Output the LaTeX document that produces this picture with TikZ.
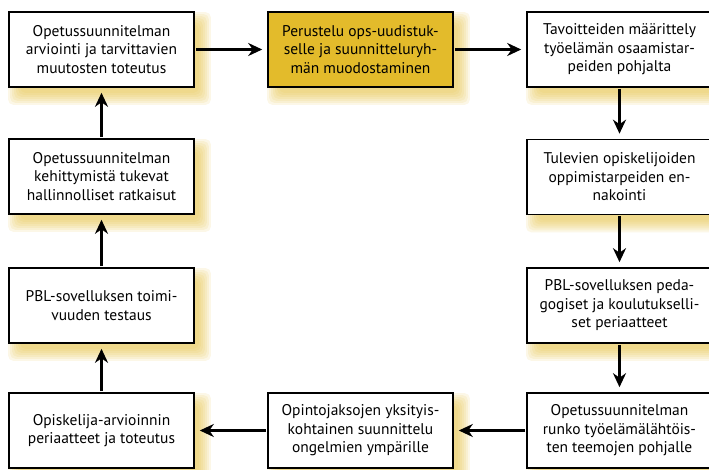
\documentclass[tikz,border=0pt]{standalone}
\usepackage{fontspec}
\setmainfont{PT Sans}
\usetikzlibrary{arrows.meta,calc}
\pgfdeclarelayer{background}
\pgfsetlayers{background,main}
\definecolor{gold}{HTML}{E3BB2B}
\definecolor{glowc}{HTML}{E9C64A}

\tikzset{
  stepbox/.style={draw=black, line width=1.6pt, fill=white,
    minimum width=185pt, minimum height=75pt, inner sep=0pt,
    align=center, font=\fontsize{15.5}{18.5}\selectfont},
  keybox/.style={stepbox, fill=gold},
  flow/.style={line width=2.6pt,
    -{Stealth[length=14pt,width=13pt,inset=4.5pt]},
    shorten >=5pt, shorten <=1pt},
  glow/.style={glowc, fill opacity=0.13, rounded corners=5pt},
}

\begin{document}
\begin{tikzpicture}[x=1pt, y=-1pt]
\useasboundingbox (0,0) rectangle (709,470);

% left column (bottom to top)
\node[stepbox] (l1) at (101.5,49.5) {Opetussuunnitelman\\arviointi ja tarvittavien\\muutosten toteutus};
\node[stepbox] (l2) at (101.5,176.5) {Opetussuunnitelman\\kehittymistä tukevat\\hallinnolliset ratkaisut};
\node[stepbox] (l3) at (101.5,305.5) {PBL-sovelluksen toimi-\\vuuden testaus};
\node[stepbox] (l4) at (101.5,430.5) {Opiskelija-arvioinnin\\periaatteet ja toteutus};

% middle column
\node[keybox] (m1) at (360.5,49.5) {Perustelu ops-uudistuk-\\selle ja suunnitteluryh-\\män muodostaminen};
\node[stepbox] (m4) at (360.5,430.5) {Opintojaksojen yksityis-\\kohtainen suunnittelu\\ongelmien ympärille};

% right column
\node[stepbox] (r1) at (619.5,49.5) {Tavoitteiden määrittely\\työelämän osaamistar-\\peiden pohjalta};
\node[stepbox] (r2) at (619.5,177) {Tulevien opiskelijoiden\\oppimistarpeiden en-\\nakointi};
\node[stepbox] (r3) at (619.5,305.5) {PBL-sovelluksen peda-\\gogiset ja koulutukselli-\\set periaatteet};
\node[stepbox] (r4) at (619.5,430.5) {Opetussuunnitelman\\runko työelämälähtöis-\\ten teemojen pohjalle};

% white page and soft golden glow behind every box
\begin{pgfonlayer}{background}
\fill[white] (0,0) rectangle (709,470);
\foreach \n in {l1,l2,l3,l4,m1,m4,r1,r2,r3,r4} {
  \foreach \e in {-4,-2,0,2,4,6,8} {
    \fill[glow] ($(\n.north west)+(8-\e,9-\e)$) rectangle ($(\n.south east)+(8+\e,9+\e)$);
  }
}
\end{pgfonlayer}

% connectors
\draw[flow] (l1) -- (m1);
\draw[flow] (m1) -- (r1);
\draw[flow] (r1) -- (r2);
\draw[flow] (r2) -- (r3);
\draw[flow] (r3) -- (r4);
\draw[flow] (r4) -- (m4);
\draw[flow] (m4) -- (l4);
\draw[flow] (l4) -- (l3);
\draw[flow] (l3) -- (l2);
\draw[flow] (l2) -- (l1);
\end{tikzpicture}
\end{document}
